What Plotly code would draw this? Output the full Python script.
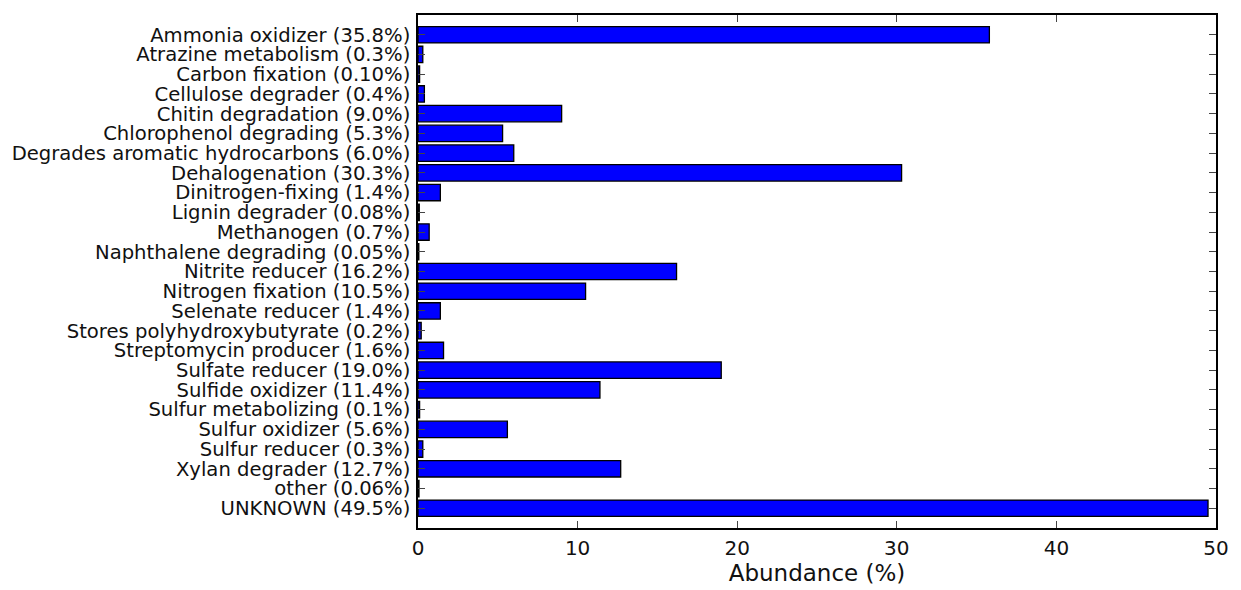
import plotly.graph_objects as go

# Functional group abundances (%), listed top to bottom
groups = [
    "Ammonia oxidizer", "Atrazine metabolism", "Carbon fixation", "Cellulose degrader",
    "Chitin degradation", "Chlorophenol degrading", "Degrades aromatic hydrocarbons",
    "Dehalogenation", "Dinitrogen-fixing", "Lignin degrader", "Methanogen",
    "Naphthalene degrading", "Nitrite reducer", "Nitrogen fixation", "Selenate reducer",
    "Stores polyhydroxybutyrate", "Streptomycin producer", "Sulfate reducer",
    "Sulfide oxidizer", "Sulfur metabolizing", "Sulfur oxidizer", "Sulfur reducer",
    "Xylan degrader", "other", "UNKNOWN",
]
abundance = [
    35.8, 0.3, 0.10, 0.4, 9.0, 5.3, 6.0, 30.3, 1.4, 0.08, 0.7, 0.05, 16.2, 10.5,
    1.4, 0.2, 1.6, 19.0, 11.4, 0.1, 5.6, 0.3, 12.7, 0.06, 49.5,
]
pct_text = [
    "35.8%", "0.3%", "0.10%", "0.4%", "9.0%", "5.3%", "6.0%", "30.3%", "1.4%", "0.08%",
    "0.7%", "0.05%", "16.2%", "10.5%", "1.4%", "0.2%", "1.6%", "19.0%", "11.4%", "0.1%",
    "5.6%", "0.3%", "12.7%", "0.06%", "49.5%",
]
x_ticks = [0, 10, 20, 30, 40, 50]

positions = list(range(len(groups)))
tick_labels = [f"{g} ({p})" for g, p in zip(groups, pct_text)]

FONT = "DejaVu Sans"
TEXT = "#111111"

fig = go.Figure(
    go.Bar(
        x=abundance,
        y=positions,
        orientation="h",
        width=0.83,
        marker=dict(color="#0000ff", line=dict(color="black", width=1.3)),
        hoverinfo="skip",
    )
)

fig.update_layout(
    width=1241,
    height=590,
    margin=dict(l=418, r=23, t=15, b=60),
    paper_bgcolor="white",
    plot_bgcolor="white",
    showlegend=False,
    font=dict(family=FONT, color=TEXT),
)

fig.update_xaxes(
    range=[0, 50],
    tickvals=x_ticks,
    ticktext=[str(v) for v in x_ticks],
    ticks="inside",
    ticklen=7,
    tickwidth=1,
    tickcolor="#444444",
    showgrid=False,
    zeroline=False,
    showline=True,
    linecolor="black",
    linewidth=1.5,
    mirror="allticks",
    tickfont=dict(family=FONT, size=20, color=TEXT),
    ticklabelstandoff=1,
    title=dict(text="Abundance (%)", font=dict(family=FONT, size=23, color=TEXT), standoff=2),
)

fig.update_yaxes(
    range=[len(groups), -1],
    tickvals=positions,
    ticktext=tick_labels,
    ticks="inside",
    ticklen=7,
    tickwidth=1,
    tickcolor="#444444",
    showgrid=False,
    zeroline=False,
    showline=True,
    linecolor="black",
    linewidth=1.5,
    mirror="allticks",
    tickfont=dict(family=FONT, size=19.6, color=TEXT),
    ticklabelstandoff=2,
)

fig.write_html("out.html")
